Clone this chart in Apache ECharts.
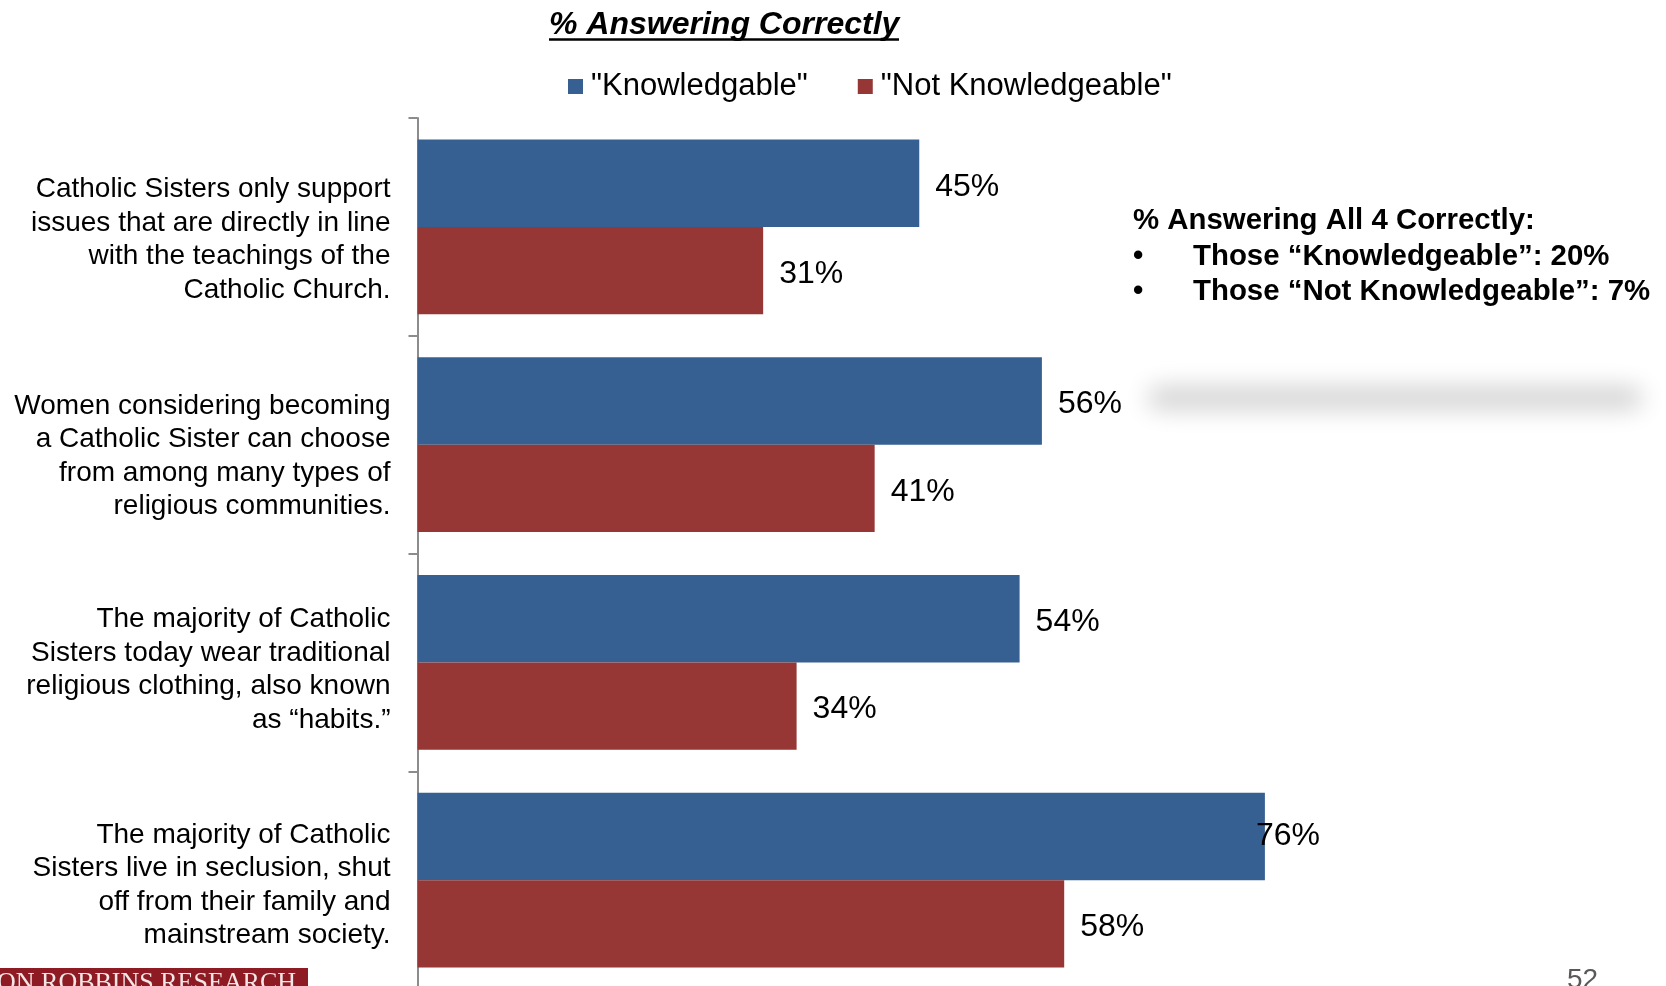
<!DOCTYPE html>
<html>
<head>
<meta charset="utf-8">
<script src="https://cdn.jsdelivr.net/npm/echarts@6/dist/echarts.min.js"></script>
<style>
html,body{margin:0;padding:0;background:#fff;}
#c{width:1666px;height:986px;}
</style>
</head>
<body>
<div id="c"></div>
<script>
var categories = [
  'Catholic Sisters only support\nissues that are directly in line\nwith the teachings of the\nCatholic Church.',
  'Women considering becoming\na Catholic Sister can choose\nfrom among many types of\nreligious communities.',
  'The majority of Catholic\nSisters today wear traditional\nreligious clothing, also known\nas \u201chabits.\u201d',
  'The majority of Catholic\nSisters live in seclusion, shut\noff from their family and\nmainstream society.'
];
var seriesNames = ['"Knowledgable"', '"Not Knowledgeable"'];
var knowledgeable = [45, 56, 54, 76];
var notKnowledgeable = [31, 41, 34, 58];
var titleText = '% Answering Correctly';
var noteTitle = '% Answering All 4 Correctly:';
var noteLines = ['Those \u201cKnowledgeable\u201d: 20%', 'Those \u201cNot Knowledgeable\u201d: 7%'];
var logoText = 'ON ROBBINS RESEARCH';
var pageNumber = '52';

var FONT = '"Liberation Sans", Arial, sans-serif';
var BLUE = '#376092';
var RED = '#963735';
var labelShift = [13, 11.5, 7.5, 5];

var chart = echarts.init(document.getElementById('c'), null, {renderer: 'canvas'});

function valueLabel(v) { return v + '%'; }

var blueData = knowledgeable.map(function (v, i) {
  var item = {value: v};
  if (i === 3) item.label = {offset: [-25, 0]};
  return item;
});

var rich = {t: {fontSize: 28, lineHeight: 33.5, color: '#000', fontFamily: FONT, align: 'right'}};
labelShift.forEach(function (d, i) {
  rich['g' + i] = {fontSize: 1, lineHeight: d * 2, align: 'right'};
});

var option = {
  backgroundColor: '#ffffff',
  animation: false,
  textStyle: {fontFamily: FONT},
  legend: {
    data: seriesNames,
    left: 563,
    top: 66,
    itemWidth: 15,
    itemHeight: 15,
    itemGap: 50,
    icon: 'rect',
    textStyle: {fontSize: 31, color: '#000', fontFamily: FONT, padding: [0, 0, 0, 3]}
  },
  grid: {left: 417.5, top: 118, width: 1115, height: 871, containLabel: false, outerBoundsMode: 'none'},
  xAxis: {type: 'value', min: 0, max: 100, show: false},
  yAxis: {
    type: 'category',
    inverse: true,
    data: categories,
    axisLine: {show: true, lineStyle: {color: '#8c8c8c', width: 2}},
    axisTick: {show: true, length: 9, lineStyle: {color: '#8c8c8c', width: 2}},
    axisLabel: {
      margin: 27, align: 'right', rich: rich,
      formatter: function (v, i) {
        return '{g' + i + '| }\n' + v.split('\n').map(function (l) { return '{t|' + l + '}'; }).join('\n');
      }
    },
    splitLine: {show: false}
  },
  series: [
    {
      name: seriesNames[0], type: 'bar', data: blueData,
      barGap: '0%', barCategoryGap: '19.8%',
      itemStyle: {color: BLUE},
      label: {show: true, position: 'right', distance: 16, offset: [0, 3.5], fontSize: 32, color: '#000', fontFamily: FONT, formatter: function (p) { return valueLabel(p.value); }}
    },
    {
      name: seriesNames[1], type: 'bar', data: notKnowledgeable,
      barGap: '0%', barCategoryGap: '19.8%',
      itemStyle: {color: RED},
      label: {show: true, position: 'right', distance: 16, offset: [0, 3.5], fontSize: 32, color: '#000', fontFamily: FONT, formatter: function (p) { return valueLabel(p.value); }}
    }
  ],
  graphic: [
    {type: 'text', left: 549, top: 9, style: {text: titleText, font: 'italic bold 32px ' + FONT, fill: '#000'}},
    {type: 'line', shape: {x1: 549, y1: 39.5, x2: 899, y2: 39.5}, style: {stroke: '#000', lineWidth: 2.5}},
    {type: 'text', left: 1133, top: 206, style: {text: noteTitle, font: 'bold 29.4px ' + FONT, fill: '#000'}},
    {type: 'text', left: 1133, top: 242, style: {text: '\u2022', font: 'bold 29.4px ' + FONT, fill: '#000'}},
    {type: 'text', left: 1193, top: 242, style: {text: noteLines[0], font: 'bold 29.4px ' + FONT, fill: '#000'}},
    {type: 'text', left: 1133, top: 277, style: {text: '\u2022', font: 'bold 29.4px ' + FONT, fill: '#000'}},
    {type: 'text', left: 1193, top: 277, style: {text: noteLines[1], font: 'bold 29.4px ' + FONT, fill: '#000'}},
    {type: 'rect', shape: {x: 1148 - 3000, y: 387, width: 494, height: 22, r: 10},
      style: {fill: '#d4d4d4', shadowBlur: 24, shadowOffsetX: 3000, shadowColor: 'rgba(208,208,208,1)'}},
    {type: 'rect', shape: {x: 0, y: 968, width: 308, height: 20}, style: {fill: '#8e1b24'}},
    {type: 'text', left: -3, top: 970, style: {text: logoText, font: '26px "Liberation Serif", "Times New Roman", serif', fill: '#f3e6e6'}},
    {type: 'text', left: 1567, top: 966, style: {text: pageNumber, font: '28px ' + FONT, fill: '#595959'}}
  ]
};
chart.setOption(option);
</script>
</body>
</html>
